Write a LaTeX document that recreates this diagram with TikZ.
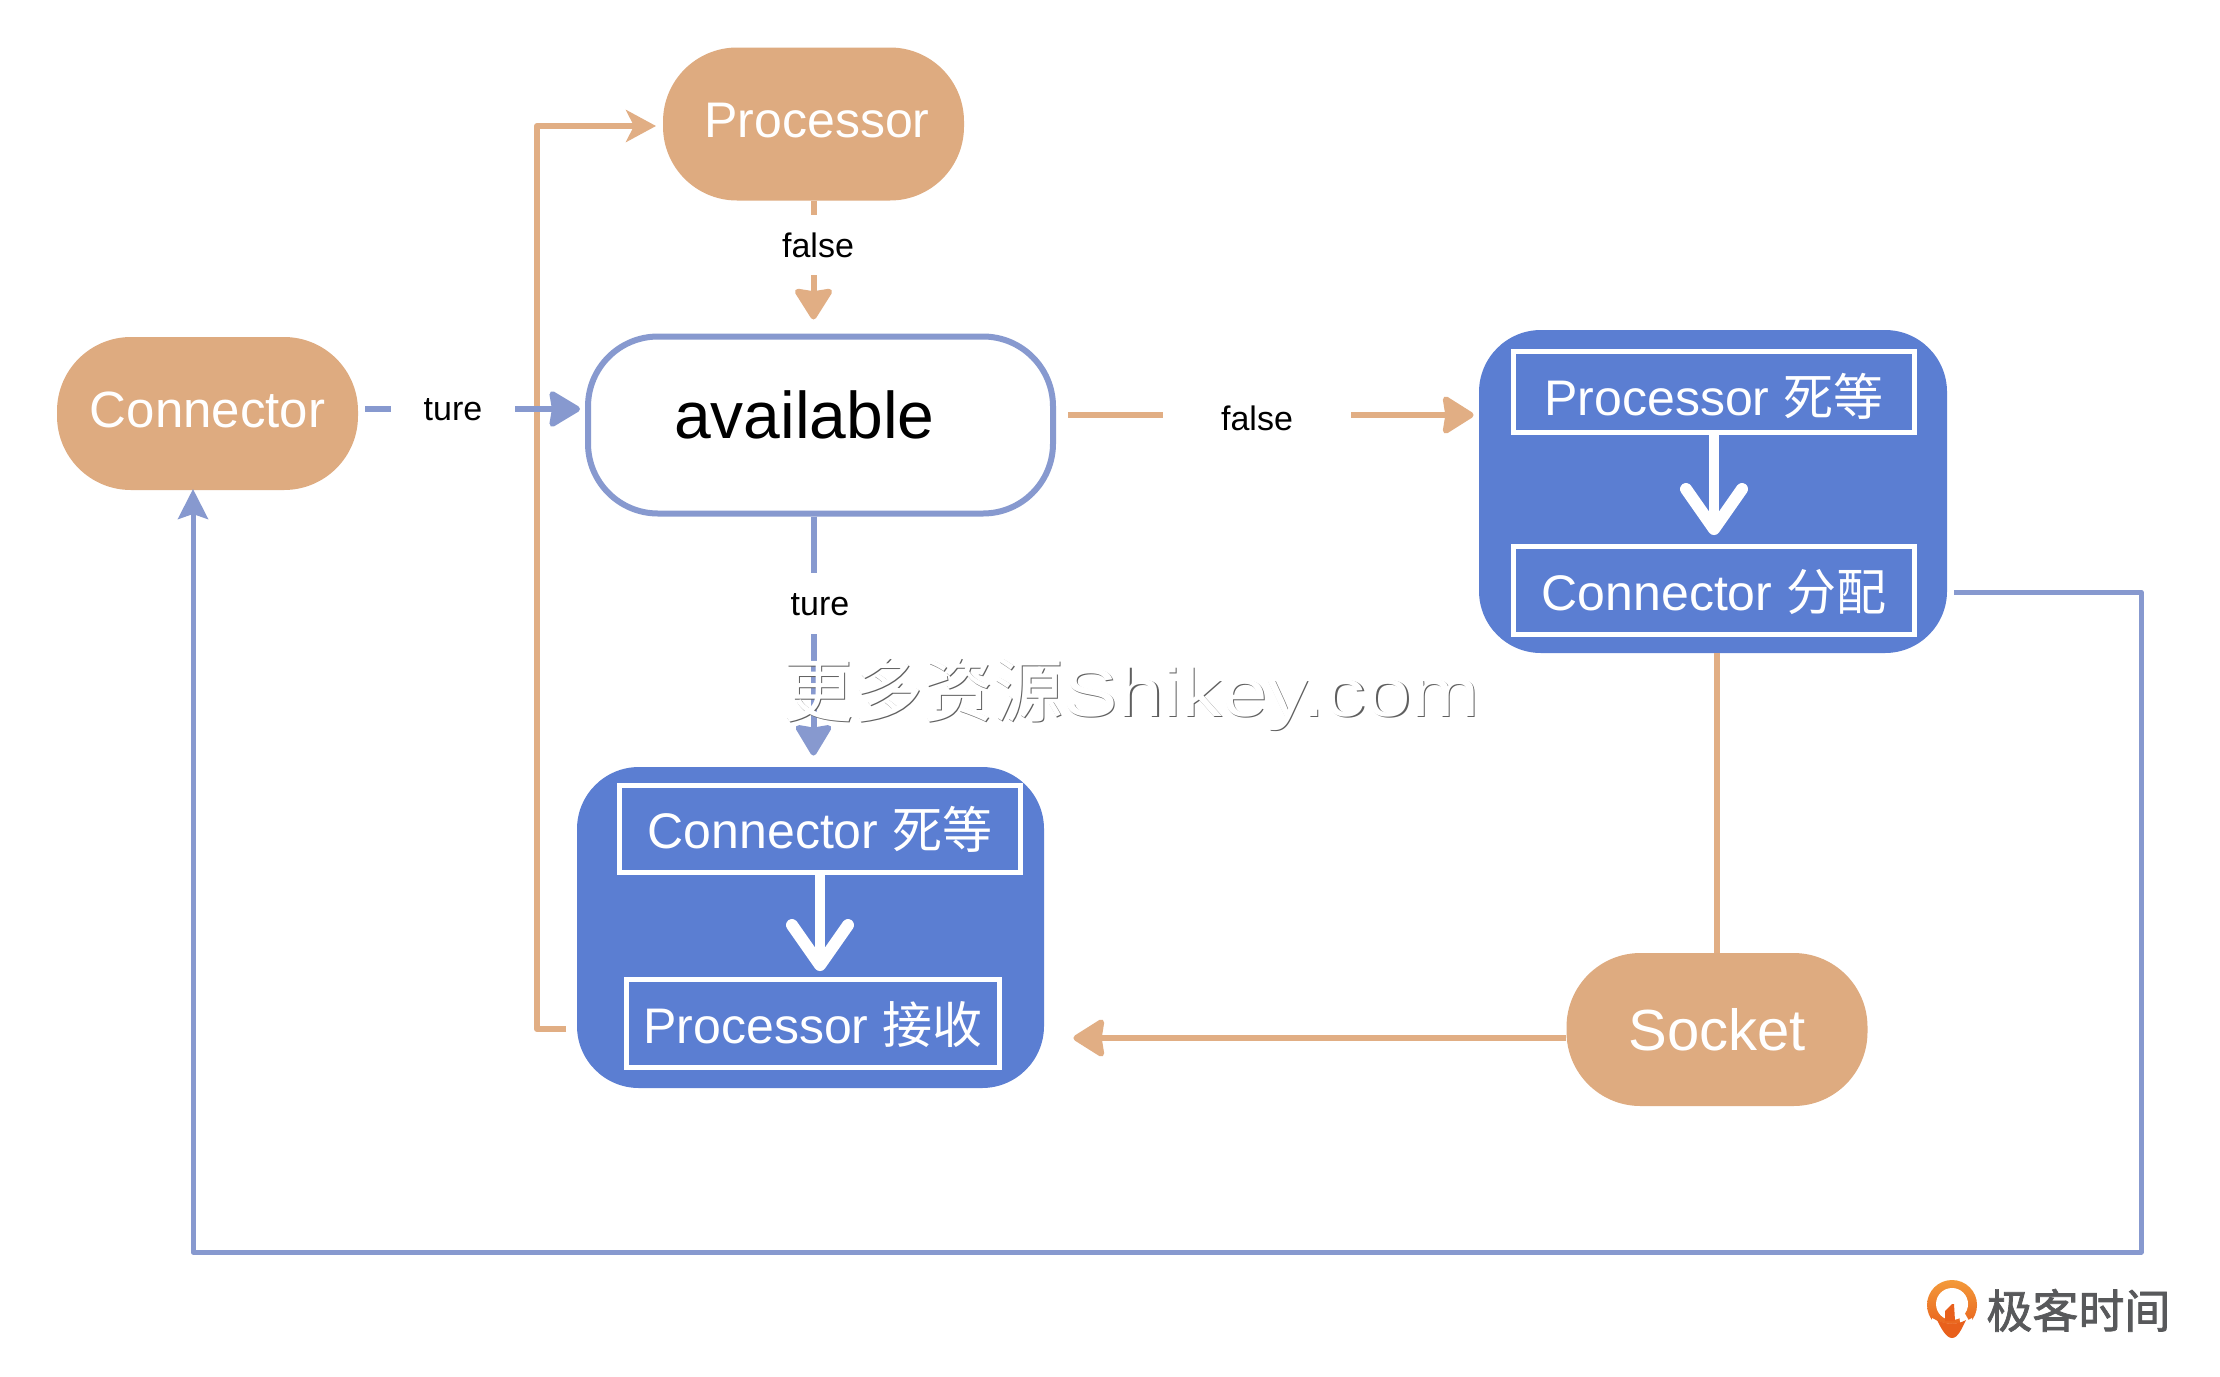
\documentclass[tikz,border=0pt]{standalone}
\usepackage{fontspec}
\setmainfont{Liberation Sans}
\newfontfamily\cjk{Noto Sans CJK SC}
\newfontfamily\logofont[FakeBold=1.6]{Noto Sans CJK SC}
\newfontfamily\wmlatin[FakeStretch=1.2]{Liberation Sans}
\usetikzlibrary{arrows.meta,calc}
\definecolor{capsule}{RGB}{222,171,128}
\definecolor{oline}{RGB}{225,174,132}
\definecolor{bline}{RGB}{135,153,207}
\definecolor{bluebox}{RGB}{91,126,210}
\definecolor{wmgray}{RGB}{95,95,95}
\definecolor{logotop}{RGB}{243,154,58}
\definecolor{logobot}{RGB}{232,96,28}
\definecolor{logogray}{RGB}{88,89,91}
\newcommand{\fsz}[1]{\fontsize{#1}{#1}\selectfont}
\tikzset{
  capsulebox/.style={rectangle,rounded corners=37pt,fill=capsule,text=white,inner sep=0pt,
    minimum width=150.5pt,minimum height=76.5pt,text depth=5pt},
  bigbox/.style={rectangle,rounded corners=31pt,fill=bluebox,inner sep=0pt},
  innerbox/.style={rectangle,draw=white,line width=2.25pt,text=white,inner sep=0pt,
    font=\fsz{25pt},text depth=5pt},
  flowlabel/.style={rectangle,inner sep=0pt,text=black,font=\fsz{17pt},text depth=5pt},
  oconn/.style={draw=oline,line width=3pt},
  bconn/.style={draw=bline,line width=3pt},
  otip/.style={-{Stealth[length=17pt,width=21pt,inset=1.5pt,round]}},
  otipopen/.style={-{Stealth[length=15pt,width=16pt,inset=4pt]}},
  btip/.style={-{Stealth[length=17pt,width=20pt,inset=1.5pt,round]}},
  btipup/.style={-{Stealth[length=15pt,width=15pt,inset=2.5pt]}},
  whitearrow/.style={draw=white,line width=5pt,
    -{Straight Barb[length=20pt,width=28pt,round,line width=6pt]}},
}
\begin{document}
\begin{tikzpicture}[x=0.5pt,y=-0.5pt]
\useasboundingbox (0,0) rectangle (2220,1376);
\fill[white] (0,0) rectangle (2220,1376);

% capsules
\node[capsulebox,text height=18.4pt,font=\fsz{25pt}] (proc) at (813.5,124) {\hspace*{3.5pt}Processor};
\node[capsulebox,text height=19.4pt,font=\fsz{25.5pt}] (conn) at (207.5,413.5) {Connector};
\node[capsulebox,text height=25.6pt,font=\fsz{29pt}] (sock) at (1717,1029.5) {Socket};

% central decision
\node[rectangle,draw=bline,line width=3pt,fill=white,rounded corners=35pt,inner sep=0pt,
  minimum width=232.5pt,minimum height=88.5pt,text height=18.6pt,text depth=5pt,font=\fsz{33pt}]
  (avail) at (820.5,425) {available\hspace*{16pt}};

% blue boxes
\node[bigbox,minimum width=234pt,minimum height=161.5pt] (rbox) at (1713,491.5) {};
\node[bigbox,minimum width=233.5pt,minimum height=160.5pt] (lbox) at (810.5,927.5) {};

\node[innerbox,minimum width=200.5pt,minimum height=40.7pt,text height=28pt] (rb1) at (1714,392)
  {Processor {\cjk 死等}};
\node[innerbox,minimum width=200.5pt,minimum height=44.2pt,text height=24.5pt] (rb2) at (1714,590.5)
  {Connector {\cjk 分配}};
\node[innerbox,minimum width=200.5pt,minimum height=43.7pt,text height=24pt] (lb1) at (820,829)
  {Connector {\cjk 死等}};
\node[innerbox,minimum width=186.7pt,minimum height=44.2pt,text height=24.5pt] (lb2) at (813,1023.5)
  {Processor {\cjk 接收}};

\draw[whitearrow,shorten <=0pt,shorten >=4.5pt] (rb1.south) -- (rb1.south |- rb2.north);
\draw[whitearrow,shorten >=3pt] (lb1.south) -- (lb1.south |- lb2.north);

% flow labels
\node[flowlabel,minimum width=30pt,minimum height=30pt,text height=17pt] (l1) at (813.5,245) {\hspace*{4.5pt}false};
\node[flowlabel,minimum width=62pt,minimum height=15pt,text height=16.4pt] (l2) at (453,409) {ture};
\node[flowlabel,minimum width=94pt,minimum height=15pt,text height=20.4pt] (l3) at (1257,415) {false};
\node[flowlabel,minimum width=30pt,minimum height=30.5pt,text height=17pt] (l4) at (813.5,603.5) {\hspace*{6.5pt}ture};

% named free ends
\coordinate (lout) at (566,1029);
\coordinate (lcorner) at (537,1029);
\coordinate (ptip) at (656,126);
\coordinate (sin) at (1566,1038);
\coordinate (rout) at (1954,592);
\coordinate (rc1) at (2141,592);
\coordinate (rc2) at (2141,1252);
\coordinate (rc3) at (193,1252);
\coordinate (ctip) at (193,489);

% orange connectors
\draw[oconn,line join=round,otipopen] (lout) -- (lcorner) |- (ptip);
\draw[oconn] (proc.south) -- (l1.north);
\draw[oconn,otip,shorten >=7pt] (l1.south) -- (l1.south |- avail.north);
\draw[oconn,shorten <=6pt] (l3.west -| avail.east) -- (l3.west);
\draw[oconn,otip,shorten >=2.5pt] (l3.east) -- (l3.east -| rbox.west);
\draw[oconn] (sock.north) -- (sock.north |- rbox.south);
\draw[oconn,otip,shorten >=14.5pt] (sin) -- (sin -| lbox.east);

% blue connectors
\draw[bconn,shorten <=3.5pt] (l2.west -| conn.east) -- (l2.west);
\draw[bconn,btip,shorten >=2.5pt] (l2.east) -- (l2.east -| avail.west);
\draw[bconn] (l4.north |- avail.south) -- (l4.north);
\draw[bconn,btip,shorten >=5.5pt] (l4.south) -- (l4.south |- lbox.north);
\draw[bconn,line width=2.5pt,line join=round,btipup] (rout) -- (rc1) -- (rc2) -- (rc3) -- (ctip);

% watermark
\node[anchor=base west,inner sep=0pt,text=wmgray,font=\fsz{35pt}] (wmshadow) at (784.5,717.5)
  {{\cjk 更多资源}{\wmlatin\fsz{34pt}Shikey.com}};
\node[anchor=base west,inner sep=0pt,text=white,font=\fsz{35pt}] (wm) at (783,716)
  {{\cjk 更多资源}{\wmlatin\fsz{34pt}Shikey.com}};

% logo
\shade[top color=logotop,bottom color=logobot] (1952,1305) circle (12.5pt);
\fill[white] (1952,1304) circle (8pt);
\fill[logobot] (1952,1304) -- (1954,1304) -- (1955,1321) -- (1945,1321) -- (1945,1311) -- cycle;
\fill[white] (1959,1316) -- (1964,1312) -- (1972,1326) -- (1961,1326) -- cycle;
\fill[white] (1932,1318) .. controls (1945,1326) and (1959,1326) .. (1972,1318) -- (1972,1340) -- (1932,1340) -- cycle;
\fill[logobot] (1937,1320) .. controls (1947,1325) and (1957,1325) .. (1966,1320)
  .. controls (1962,1328) and (1958,1338) .. (1952,1338) .. controls (1946,1338) and (1941,1328) .. (1937,1320) -- cycle;
\node[anchor=base west,inner sep=0pt,text=logogray,font=\fsz{23pt}] (logotext) at (1986,1328)
  {\logofont 极客时间};
\end{tikzpicture}
\end{document}
